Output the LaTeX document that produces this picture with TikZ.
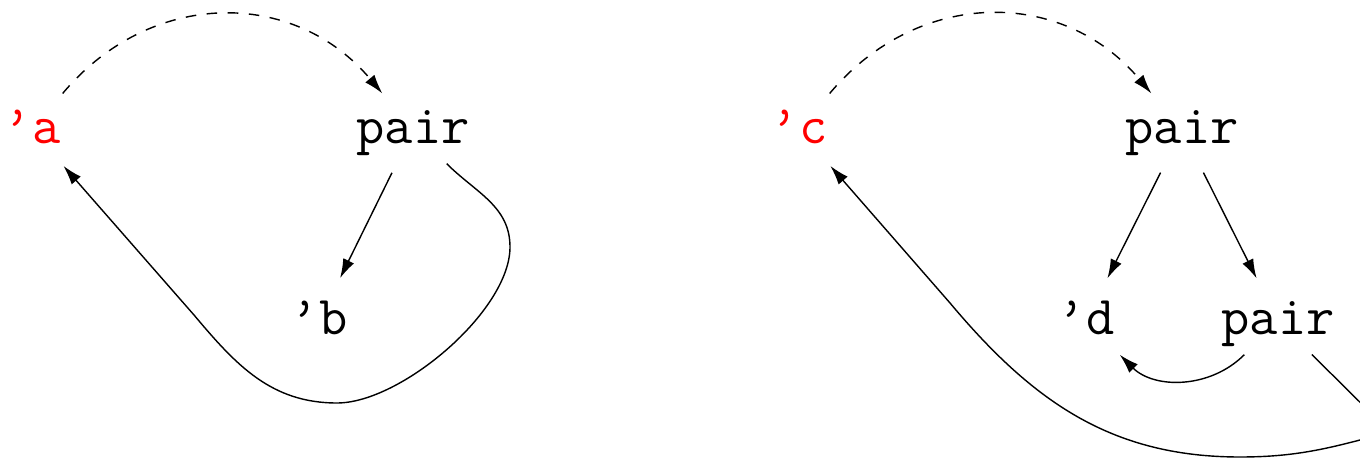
\documentclass[tikz,border=0pt]{standalone}
\usetikzlibrary{arrows.meta}
\newcommand{\lbl}[1]{\makebox[0pt]{#1}}
\begin{document}
\begin{tikzpicture}[x=10mm,y=10mm,
  atom/.style={circle,minimum size=9.4mm,inner sep=0pt,text height=8pt,text depth=.3pt,font=\fontsize{15.6}{18}\selectfont\ttfamily},
  link/.style={-{Latex[length=5.5pt,width=3.4pt]}},
  hop/.style={link,dashed,bend left=50,looseness=1.1}]
\useasboundingbox (0,0) rectangle (13.6,4.59);
% first list
\begin{scope}[shift={(.32,0)}]
\node[atom,red] (a) at (0,3.29) {\lbl{\textquoteright a}};
\node[atom] (p1) at (3.81,3.29) {\lbl{pair}};
\node[atom] (b) at (2.87,1.38) {\lbl{\textquoteright b}};
\draw[hop] (a) to (p1);\draw[link] (p1)--(b);
\draw[link] (p1) to[out=-45,in=90] (4.78,2.12) to[out=-90,in=0,looseness=.7] (3.05,.56) to[out=180,in=-50] (1.62,1.44) -- (a);
\end{scope}
% second list
\begin{scope}[shift={(7.99,0)}]
\node[atom,red] (c) at (0,3.29) {\lbl{\textquoteright c}};
\node[atom] (p2) at (3.83,3.29) {\lbl{pair}};
\node[atom] (d) at (2.87,1.38) {\lbl{\textquoteright d}};
\node[atom] (p3) at (4.79,1.38) {\lbl{pair}};
\draw[hop] (c) to (p2);\draw[link] (p2)--(d);\draw[link] (p2)--(p3);
\draw[link] (p3) to[bend left=45] (d);
\draw[link] (p3) -- (5.91,.27) to[out=195,in=0] (4.41,.02) to[out=180,in=-50] (1.51,1.56) -- (c);
\end{scope}
\end{tikzpicture}
\end{document}
